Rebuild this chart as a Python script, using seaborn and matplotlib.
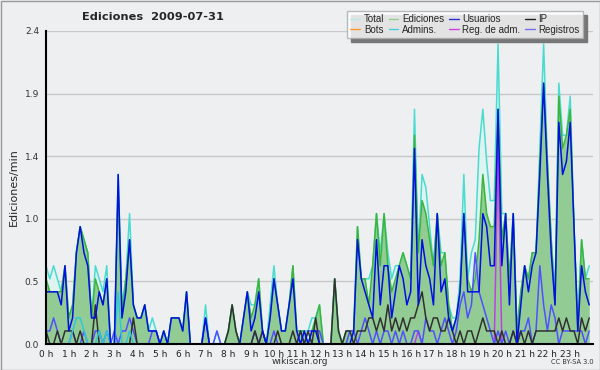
import numpy as np
import pandas as pd
import matplotlib
matplotlib.use("Agg")
import matplotlib.pyplot as plt
import seaborn as sns
from matplotlib.lines import Line2D

# edits per minute, 10-minute bins (values in tenths), 2009-07-31
total = [6,5,6,5,4,6, 2,3,7,9,8,7, 2,6,5,4,6,0, 0,13,3,5,10,3, 2,2,3,1,2,1, 0,1,0,2,2,2,
         1,4,0,0,0,0, 3,0,0,1,0,0, 1,3,1,0,2,4, 3,3,5,1,0,3, 6,3,1,1,3,6, 1,1,1,1,2,2,
         3,0,0,0,5,1, 0,1,1,1,9,5, 5,5,6,10,7,10, 7,5,6,6,7,6, 5,18,7,13,12,9, 6,10,7,7,3,2,
         2,5,13,5,7,8, 15,18,14,11,11,23, 10,10,5,10,1,4, 6,5,7,7,15,23, 14,8,4,20,16,16, 19,9,2,8,5,6]
ediciones = [5,4,4,4,4,6, 2,3,7,9,8,7, 2,5,4,3,5,0, 0,12,2,5,8,3, 2,2,3,1,1,1, 0,1,0,2,2,2,
             1,4,0,0,0,0, 2,0,0,0,0,0, 1,3,1,0,2,4, 2,3,5,1,0,2, 5,3,1,1,3,6, 1,1,1,0,1,2,
             3,0,0,0,5,1, 0,1,1,1,9,5, 5,3,6,10,6,10, 6,4,5,6,7,6, 5,16,7,11,10,8, 6,10,6,7,3,1,
             2,4,10,5,4,5, 8,13,10,9,9,18, 8,10,5,10,1,4, 6,5,7,7,14,20, 14,8,3,19,15,16, 18,9,1,8,5,5]
usuarios = [4,4,4,4,3,6, 1,2,7,9,7,6, 2,2,4,3,5,0, 0,13,2,4,8,3, 2,2,3,1,1,1, 0,1,0,2,2,2,
            1,4,0,0,0,0, 2,0,0,0,0,0, 0,0,0,0,2,4, 1,2,4,1,0,2, 5,3,1,1,3,5, 1,0,1,0,1,1,
            0,0,0,0,0,0, 0,0,0,1,8,5, 4,3,2,8,3,6, 6,2,4,6,5,3, 4,15,3,8,6,5, 3,10,4,5,2,1,
            2,4,10,4,4,4, 4,10,9,6,6,18, 6,10,3,10,0,3, 6,4,6,7,13,20, 13,7,3,17,13,14, 17,9,1,6,4,3]
ip = [1,0,0,1,0,1, 1,1,0,1,0,0, 0,3,0,0,0,0, 0,0,0,0,0,2, 0,0,0,0,0,0, 0,0,0,0,0,0,
      0,0,0,0,0,0, 0,0,0,0,0,0, 1,3,1,0,0,0, 0,1,0,1,0,0, 0,1,0,0,0,1, 0,1,0,1,0,2,
      0,0,0,0,5,1, 0,1,1,0,1,1, 1,2,2,1,2,1, 3,1,2,1,2,1, 2,2,3,4,2,1, 2,2,1,1,2,1,
      0,1,0,1,1,0, 1,2,1,1,1,0, 1,0,0,1,0,1, 0,1,0,1,1,1, 1,1,1,2,1,2, 1,1,0,2,1,2]
registros = [1,1,2,1,0,0, 0,1,0,0,1,0, 0,1,1,0,1,0, 1,0,1,1,2,1, 0,0,0,0,1,1, 0,0,0,0,0,0,
             0,0,0,0,0,0, 2,0,0,1,0,0, 0,0,0,0,0,0, 0,1,0,1,0,0, 1,0,0,0,0,0, 0,1,0,1,1,1,
             1,0,0,0,0,0, 0,0,1,1,0,1, 2,1,0,1,0,1, 1,0,1,0,1,0, 0,1,1,0,2,1, 1,0,1,2,1,0,
             1,3,4,2,3,7, 4,3,2,1,0,1, 0,1,0,1,0,1, 1,2,0,1,6,3, 1,3,2,0,1,1, 1,1,1,1,0,1]
admins = [0]*144
for k, v in {7: 1, 8: 2, 9: 2, 10: 1, 14: 1, 16: 1, 19: 4, 22: 1}.items():
    admins[k] = v
reg_adm = [0]*144
for k, v in {98: 1, 119: 15}.items():
    reg_adm[k] = v
bots = [0]*144

hour_labels = [f"{h} h" for h in range(24)]

df = pd.DataFrame({
    "bin": np.arange(144),
    "Total": np.array(total) / 10,
    "Ediciones": np.array(ediciones) / 10,
    "Usuarios": np.array(usuarios) / 10,
    "IP": np.array(ip) / 10,
    "Bots": np.array(bots) / 10,
    "Admins.": np.array(admins) / 10,
    "Reg. de adm.": np.array(reg_adm) / 10,
    "Registros": np.array(registros) / 10,
})

bg = "#eeeff1"
sns.set_theme(style="white")
plt.rcParams["font.family"] = ["DejaVu Sans"]

fig = plt.figure(figsize=(6, 3.7), dpi=100, facecolor=bg)
ax = fig.add_axes([46/600, 1 - 344/370, 547/600, 313/370])
ax.set_facecolor(bg)

colors = {"Total": "#48dcd0", "Ediciones": "#3db53d", "Usuarios": "#0010e0", "IP": "#303030",
          "Bots": "#ff9a30", "Admins.": "#30c8d8", "Reg. de adm.": "#c040e0", "Registros": "#5050ff"}
swatch = {"Total": "#b8ecea", "Ediciones": "#8fd08f", "Usuarios": "#3030d0", "IP": "#202020",
          "Bots": "#ff9a30", "Admins.": "#40d0d8", "Reg. de adm.": "#d040e0", "Registros": "#7070ee"}

ax.fill_between(df["bin"], df["Total"], color="#dff3f1", lw=0, zorder=1)
ax.fill_between(df["bin"], df["Ediciones"], color="#8fc98f", alpha=0.95, lw=0, zorder=2)
for name, z in [("Total", 3), ("Ediciones", 4), ("Bots", 5), ("Reg. de adm.", 5), ("Registros", 6),
                ("IP", 6), ("Admins.", 7), ("Usuarios", 8)]:
    sns.lineplot(data=df, x="bin", y=name, ax=ax, color=colors[name], lw=1.1, zorder=z)

ax.set_xlim(0, 144)
ax.set_ylim(0, 2.4)
yt = np.linspace(0, 2.4, 6)
ax.set_yticks(yt)
ax.set_yticklabels([f"{v:.1f}" for v in yt], fontsize=6.5, color="#333333")
ax.set_yticks(yt[:-1] + 0.24, minor=True)
ax.set_xticks(np.arange(0, 144, 6))
ax.set_xticklabels(hour_labels, fontsize=6.5, color="#222222", ha="center")
ax.set_xticks(np.arange(0, 145), minor=True)
ax.tick_params(axis="x", which="both", direction="out", length=3, width=1, color="black", pad=1)
ax.tick_params(axis="y", which="both", direction="out", length=4, width=1, color="black", pad=1)
ax.grid(axis="y", color="#c8c8c8", lw=1)
ax.set_axisbelow(True)
for s in ["top", "right"]:
    ax.spines[s].set_visible(False)
for s in ["left", "bottom"]:
    ax.spines[s].set_color("black")
    ax.spines[s].set_linewidth(1.5)
    ax.spines[s].set_zorder(10)
ax.set_xlabel("")
ax.set_ylabel("Ediciones/min", fontsize=8, labelpad=4)

fig.text(153/600, 1 - 16.5/370, "Ediciones  2009-07-31", ha="center", va="center",
         fontsize=8.2, fontweight="bold")
fig.text(300/600, 1 - 362/370, "wikiscan.org", ha="center", va="center", fontsize=6.5, color="#333333")
fig.text(572/600, 1 - 362/370, "CC BY-SA 3.0", ha="center", va="center", fontsize=4.8, color="#333333")

order = ["Total", "Bots", "Ediciones", "Admins.", "Usuarios", "Reg. de adm.", "IP", "Registros"]
handles = [Line2D([], [], color=swatch[n], lw=1) for n in order]
leg = fig.legend(handles, order, loc="upper left", bbox_to_anchor=(347/600, 1 - 11/370), ncol=4,
                 prop={"family": "Liberation Sans", "size": 7.0}, frameon=True, fancybox=False,
                 shadow=False, handlelength=1.0, handletextpad=0.4, columnspacing=0.45,
                 labelspacing=0.05, borderpad=0.35, borderaxespad=0)
leg.get_frame().set_edgecolor("#aaaaaa")
leg.get_frame().set_facecolor("white")
leg.get_frame().set_linewidth(1)
leg.set_zorder(6)

fig.canvas.draw()
bb = leg.get_window_extent()
fig.patches.append(plt.Rectangle(((bb.x0 + 4) / 600, (bb.y0 - 4) / 370), bb.width / 600, bb.height / 370,
                                 transform=fig.transFigure, color="#777777", zorder=5))
fig.patches.append(plt.Rectangle((0.5/600, 0.5/370), 599/600, 369/370, transform=fig.transFigure,
                                 fill=False, edgecolor="#999999", lw=1))

fig.savefig("out.png", dpi=100, facecolor=bg)
